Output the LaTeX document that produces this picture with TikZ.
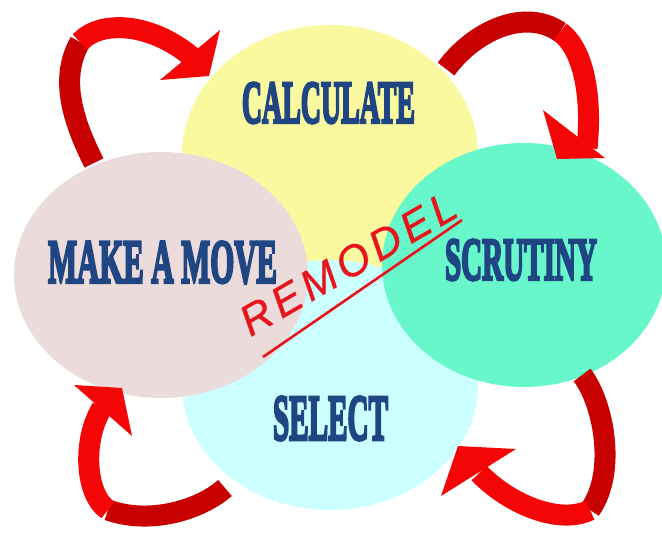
\documentclass[tikz,border=0pt]{standalone}
\usepackage{fontspec}
\setmainfont{Liberation Serif}
\newfontfamily\lblfont{Liberation Serif Bold}[FakeBold=5]
\newfontfamily\remfont{Liberation Sans Italic}[FakeBold=0.6]
\usetikzlibrary{shapes.geometric}
\definecolor{cyel}{RGB}{251,249,160}
\definecolor{cpink}{RGB}{236,219,219}
\definecolor{cgreen}{RGB}{104,247,202}
\definecolor{ccyan}{RGB}{204,255,255}
\definecolor{ctext}{RGB}{31,69,130}
\definecolor{cred}{RGB}{245,6,6}
\definecolor{cdark}{RGB}{200,0,0}
\definecolor{crem}{RGB}{232,20,28}
\begin{document}
\begin{tikzpicture}[x=1pt,y=-1pt,
  blob/.style={ellipse, draw=none, inner sep=0pt},
  lbl/.style={inner sep=0pt, text=ctext, font=\lblfont},
  back/.style={draw=cdark, line width=21pt},
  front/.style={draw=cred, line width=21pt},
  headtri/.style={fill=cred},
  remword/.style={inner sep=0pt, text=crem, rotate=30.1, font=\remfont\fontsize{43}{43}\selectfont}]
\fill[white] (0,0) rectangle (662,535);
\useasboundingbox (0,0) rectangle (662,535);

% ellipses
\node[blob, fill=cyel,  minimum width=296pt, minimum height=260pt] (calc) at (330,155) {};
\node[blob, fill=ccyan, minimum width=296pt, minimum height=250pt] (sel)  at (330,385) {};
\node[blob, fill=cpink, minimum width=294pt, minimum height=246pt] (move) at (161,275) {};
\node[blob, fill=cgreen,minimum width=284pt, minimum height=244pt] (scr)  at (524,265) {};

% labels
\node[lbl] (tcalc) at (328.5,103) {\resizebox{173pt}{40pt}{CALCULATE}};
\node[lbl] (tmove) at (162.5,262.5) {\resizebox{229pt}{41pt}{MAKE A MOVE}};
\node[lbl] (tscr)  at (521,260) {\resizebox{152pt}{40pt}{SCRUTINY}};
\node[lbl] (tsel)  at (330.5,418.5) {\resizebox{115pt}{43pt}{SELECT}};

% REMODEL
\node[remword] (rem) at (348,263.5) {R\kern5pt E\kern5pt M\kern5pt O\kern5pt D\kern5pt E\kern5pt L};
\coordinate (ul1) at (263,357);
\coordinate (ul2) at (462,220);
\draw[crem, line width=2.6pt] (ul1) -- (ul2);

% arrow 1: MAKE A MOVE -> CALCULATE
\coordinate (a1s) at (94,163);
\coordinate (a1m) at (80,42);
\coordinate (a1e) at (192,57);
\draw[back]  (a1s) .. controls (75,125) and (58,80) .. (a1m);
\draw[front] (a1m) .. controls (100,20) and (150,22) .. (a1e);
\fill[headtri] (220,30) -- (209,76) -- (160,80) -- cycle;

% arrow 2: CALCULATE -> SCRUTINY
\coordinate (a2s) at (446,69);
\coordinate (a2m) at (560,32);
\coordinate (a2e) at (587,148);
\draw[back]  (a2s) .. controls (475,30) and (525,8) .. (a2m);
\draw[front] (a2m) .. controls (585,50) and (592,100) .. (a2e);
\fill[headtri] (543,110) -- (605,158) -- (557,159) -- cycle;

% arrow 3: SCRUTINY -> SELECT
\coordinate (a3s) at (582,375);
\coordinate (a3m) at (590,510);
\coordinate (a3e) at (479,473);
\draw[back]  (a3s) .. controls (602,400) and (618,470) .. (a3m);
\draw[front] (a3m) .. controls (560,525) and (510,505) .. (a3e);
\fill[headtri] (458,446) -- (516,449) -- (441,496) -- cycle;

% arrow 4: SELECT -> MAKE A MOVE
\coordinate (a4s) at (225,488);
\coordinate (a4m) at (108,510);
\coordinate (a4e) at (102,408);
\draw[back]  (a4s) .. controls (200,510) and (150,525) .. (a4m);
\draw[front] (a4m) .. controls (85,495) and (82,440) .. (a4e);
\fill[headtri] (122,388) -- (132,436) -- (74,385) -- cycle;
\end{tikzpicture}
\end{document}
